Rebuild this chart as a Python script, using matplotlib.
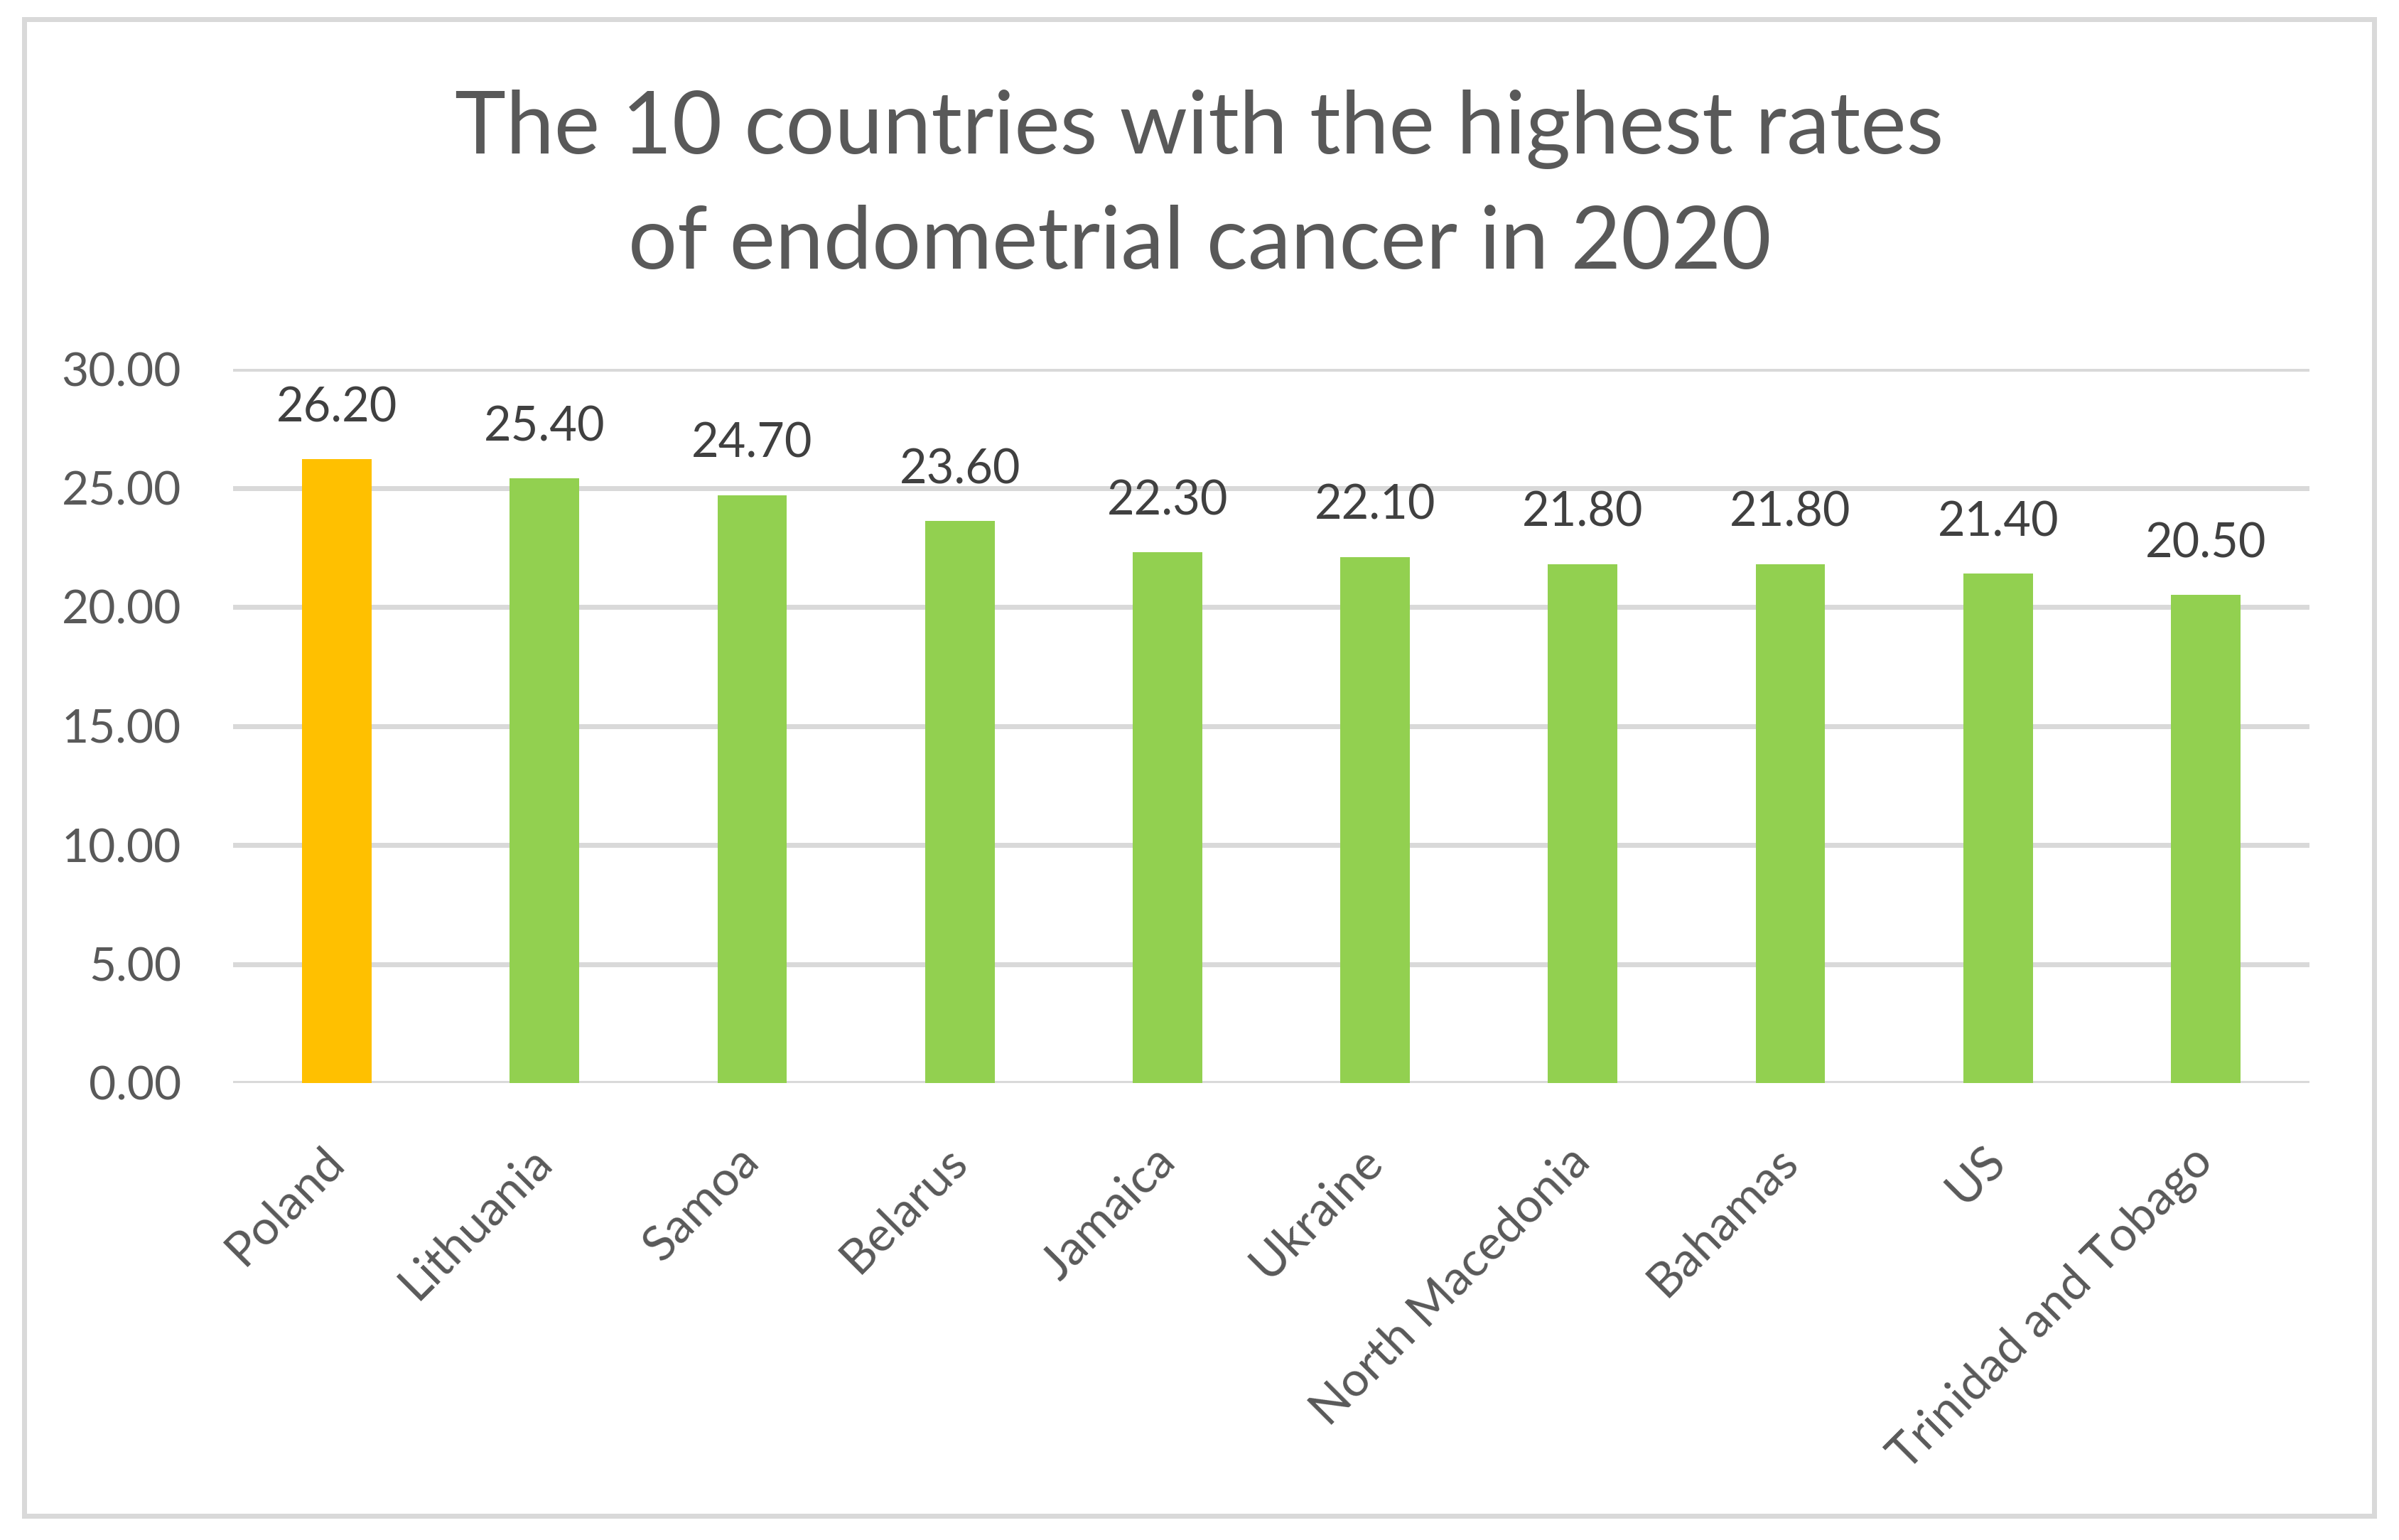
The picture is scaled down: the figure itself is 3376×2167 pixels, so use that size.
import matplotlib.pyplot as plt
from matplotlib.patches import Rectangle

# Data
countries = ['Poland', 'Lithuania', 'Samoa', 'Belarus', 'Jamaica', 'Ukraine',
             'North Macedonia', 'Bahamas', 'US', 'Trinidad and Tobago']
rates = [26.20, 25.40, 24.70, 23.60, 22.30, 22.10, 21.80, 21.80, 21.40, 20.50]
yticks = [0, 5, 10, 15, 20, 25, 30]
highlight = 'Poland'

plt.rcParams['font.family'] = ['Lato', 'DejaVu Sans']

W, H = 3376, 2167
fig = plt.figure(figsize=(W / 300, H / 300), dpi=300)
fig.patch.set_facecolor('white')

# Axes placed like the Excel plot area
ax = fig.add_axes([328 / W, 1 - 1524 / H, (3250 - 328) / W, (1524 - 519) / H])

colors = ['#FFC000' if c == highlight else '#92D050' for c in countries]
bars = ax.bar(range(len(countries)), rates, width=0.335, color=colors, zorder=3)

ax.set_xlim(-0.5, len(countries) - 0.5)
ax.set_ylim(0, 30)
ax.set_yticks(yticks)
ax.set_yticklabels([f'{v:.2f}' for v in yticks])
ax.yaxis.grid(True, color='#D9D9D9', linewidth=1.68, zorder=0)
ax.set_axisbelow(True)
for s in ax.spines.values():
    s.set_visible(False)

ax.tick_params(axis='y', length=0, pad=17.5, labelsize=15.8, labelcolor='#595959')
ax.tick_params(axis='x', length=0, pad=24, labelsize=16.3, labelcolor='#595959')
ax.set_xticks(range(len(countries)))
ax.set_xticklabels(countries, rotation=45, ha='right', va='center',
                   rotation_mode='anchor')

# Value labels above the bars
for b, v in zip(bars, rates):
    ax.annotate(f'{v:.2f}', (b.get_x() + b.get_width() / 2, v),
                xytext=(0, 12.7), textcoords='offset points',
                ha='center', va='baseline', fontsize=16, color='#404040')

# Two-line title
fig.text(0.5, 1 - 216 / H, 'The 10 countries with the highest rates',
         ha='center', va='baseline', fontsize=29.2, color='#595959')
fig.text(0.5, 1 - 378 / H, 'of endometrial cancer in 2020',
         ha='center', va='baseline', fontsize=29.2, color='#595959')

# Chart border
fig.patches.append(Rectangle((34 / W, 1 - 2133 / H), (3341 - 34) / W, (2133 - 27) / H,
                             transform=fig.transFigure, fill=False,
                             edgecolor='#D9D9D9', linewidth=1.68))

fig.savefig('out.png', dpi=300)
